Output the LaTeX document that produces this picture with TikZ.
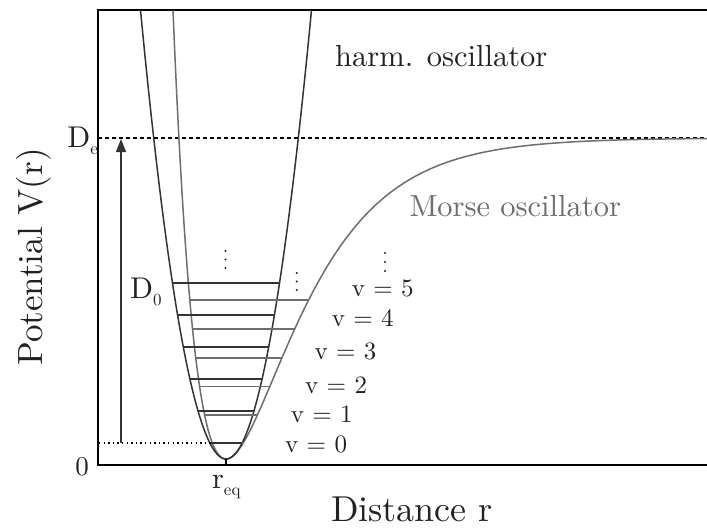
\documentclass[tikz,border=0pt]{standalone}
\usepackage{fontspec}
\setmainfont{lmroman10-regular}[Extension=.otf]
\usetikzlibrary{arrows.meta}
\definecolor{harmc}{HTML}{333333}
\definecolor{morsec}{HTML}{6E6E6E}
\definecolor{txt}{HTML}{222222}
\begin{document}
\begin{tikzpicture}[x=1pt,y=-1pt,
  harm/.style={draw=harmc, line width=1.5pt},
  morse/.style={draw=morsec, line width=1.5pt},
  lbl/.style={text=txt, inner sep=0pt, font=\fontsize{25}{30}\selectfont, anchor=base west},
  big/.style={text=txt, inner sep=0pt, font=\fontsize{35}{40}\selectfont},
  mid/.style={text=txt, inner sep=0pt, font=\fontsize{30}{36}\selectfont},
  vdot/.style={fill=txt}
]
\useasboundingbox (0,0) rectangle (707,528);
\fill[white] (0,0) rectangle (707,528);

% frame
\draw[line width=2pt, draw=black] (707,10) -- (98,10) -- (98,465) -- (707,465);

% dissociation energy line
\draw[line width=1.4pt, dash pattern=on 4pt off 3pt] (98,138) -- (707,138);

\begin{scope}
\clip (98,10) rectangle (707,465);
% Morse potential
\draw[morse] plot[domain=173:707, samples=300, smooth]
  (\x,{459-321*(1-exp(-0.01473*(\x-226)))*(1-exp(-0.01473*(\x-226)))});
% harmonic potential
\draw[harm] plot[domain=140.4:311.6, samples=120, smooth]
  (\x,{459-449*((\x-226)/85.5)*((\x-226)/85.5)});
% Morse levels
\foreach \yy in {443,415,386.5,358,329,300}{
  \pgfmathsetmacro{\s}{sqrt((459-\yy)/321)}
  \draw[morse] ({226-ln(1+\s)/0.01473},\yy) -- ({226-ln(1-\s)/0.01473},\yy);
}
% harmonic levels
\foreach \n in {0,...,5}{
  \pgfmathsetmacro{\E}{16+32*\n}
  \pgfmathsetmacro{\w}{85.5*sqrt(\E/449)}
  \draw[harm] ({226-\w},{459-\E}) -- ({226+\w},{459-\E});
}
\end{scope}

% zero point dotted line and D0 arrow
\coordinate (zp) at (99,443);
\coordinate (zpe) at (211,443);
\coordinate (ab) at (121,443);
\coordinate (at) at (121,139);
\draw[line width=1.4pt, dash pattern=on 1.4pt off 3.2pt] (zp) -- (zpe);
\draw[line width=1.5pt, draw=harmc, -{Triangle[length=13pt,width=10pt]}] (ab) -- (at);

% r_eq tick
\coordinate (t1) at (226,459);
\coordinate (t2) at (226,465);
\draw[line width=1.3pt] (t1) -- (t2);

% vertical dots
\foreach \yy in {251,259.5,268}{\fill[vdot] (225.5,\yy) circle (1.1pt);}
\foreach \yy in {273,281.5,290}{\fill[vdot] (296.7,\yy) circle (1.1pt);}
\foreach \yy in {253,262,271}{\fill[vdot] (385,\yy) circle (1.1pt);}

% level labels
\node[lbl] (v5) at (351.7,296.7) {v = 5};
\node[lbl] (v4) at (331.7,326.7) {v = 4};
\node[lbl] (v3) at (314.3,359.3) {v = 3};
\node[lbl] (v2) at (305,393.3) {v = 2};
\node[lbl] (v1) at (290.7,422.7) {v = 1};
\node[lbl] (v0) at (285,452.7) {v = 0};

% curve labels
\node[text=txt, inner sep=0pt, font=\fontsize{30.5}{36}\selectfont, anchor=base west] (ho) at (335,66.7) {harm. oscillator};
\node[text=morsec, inner sep=0pt, font=\fontsize{30.5}{36}\selectfont, anchor=base west] (mo) at (409.3,216.7) {Morse oscillator};

% energy labels
\node[mid, anchor=base east] (De) at (98,147) {D\raisebox{-0.25em}{\fontsize{17}{18}\selectfont e}};
\node[mid, anchor=base west] (D0) at (130,298) {D\raisebox{-0.25em}{\fontsize{17}{18}\selectfont 0}};
\node[mid, anchor=base east, font=\fontsize{27}{30}\selectfont] (zero) at (89,475) {0};
\node[mid, anchor=base west] (req) at (212,488) {r\raisebox{-0.25em}{\fontsize{17}{18}\selectfont eq}};

% axis labels
\node[big, rotate=90, anchor=base] (ylab) at (42,257) {Potential V(r)};
\node[big, anchor=base, font=\fontsize{36}{40}\selectfont] (xlab) at (412,521) {Distance r};
\end{tikzpicture}
\end{document}
